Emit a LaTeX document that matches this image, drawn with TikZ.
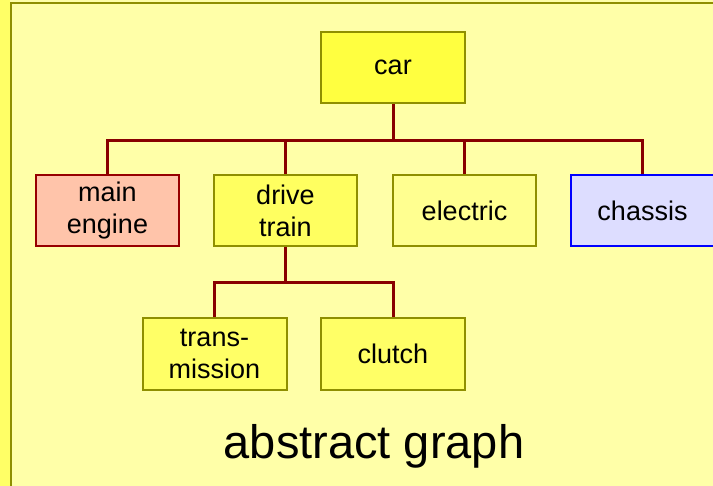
\documentclass[tikz,border=0pt]{standalone}
\usepackage{fontspec}
\setmainfont{Liberation Sans}
\usetikzlibrary{calc}
\definecolor{paneyellow}{HTML}{FFFFA8}
\definecolor{stripyellow}{HTML}{FFFF66}
\definecolor{olive}{HTML}{8F8F00}
\definecolor{linkred}{HTML}{880000}
\tikzstyle{part} = [rectangle, minimum width=143pt, minimum height=71pt, inner sep=0pt, align=center, draw=olive, line width=2pt, font=\fontsize{27}{32}\selectfont]
\tikzstyle{link} = [line width=3pt, draw=linkred]

\begin{document}
\begin{tikzpicture}[x=1pt,y=-1pt]
    \useasboundingbox (0,0) rectangle (713,486);
    % background panel
    \fill [paneyellow] (0,0) rectangle (713,486);
    \fill [stripyellow] (0,0) rectangle (10,486);
    \draw [olive, line width=2pt] (720,3) -- (11,3) -- (11,490);
    % tree
    \node [part, fill={rgb,255:red,255;green,255;blue,64}, minimum width=144pt] (car) at (393,67.5) {car};
    \node [part, fill={rgb,255:red,255;green,196;blue,170}, draw={rgb,255:red,150;green,0;blue,0}] (engine) at (107.5,210.5) {main\\engine};
    \node [part, fill={rgb,255:red,255;green,255;blue,96}] (drive) at (285.5,210.5) {drive\\train};
    \node [part, fill={rgb,255:red,255;green,255;blue,144}] (electric) at (464.5,210.5) {electric};
    \node [part, fill={rgb,255:red,221;green,221;blue,255}, draw=blue] (chassis) at (642.5,210.5) {chassis};
    \node [part, fill=stripyellow, minimum width=144pt, minimum height=72pt] (trans) at (214.5,354) {trans-\\mission};
    \node [part, fill=stripyellow, minimum width=144pt, minimum height=72pt] (clutch) at (393,354) {clutch};
    \draw [link] (car.south) -- ++(0,37) coordinate (hub);
    \draw [link] (engine.north) |- (hub);
    \draw [link] (drive.north) -- (drive.north |- hub);
    \draw [link] (electric.north) -- (electric.north |- hub);
    \draw [link] (chassis.north) |- (hub);
    \draw [link] (drive.south) -- ++(0,36) coordinate (subhub);
    \draw [link] (trans.north) |- (subhub);
    \draw [link] (clutch.north) |- (subhub);
    \node [font=\fontsize{47}{52}\selectfont, anchor=base] (title) at (374,459) {abstract graph};
\end{tikzpicture}
\end{document}
